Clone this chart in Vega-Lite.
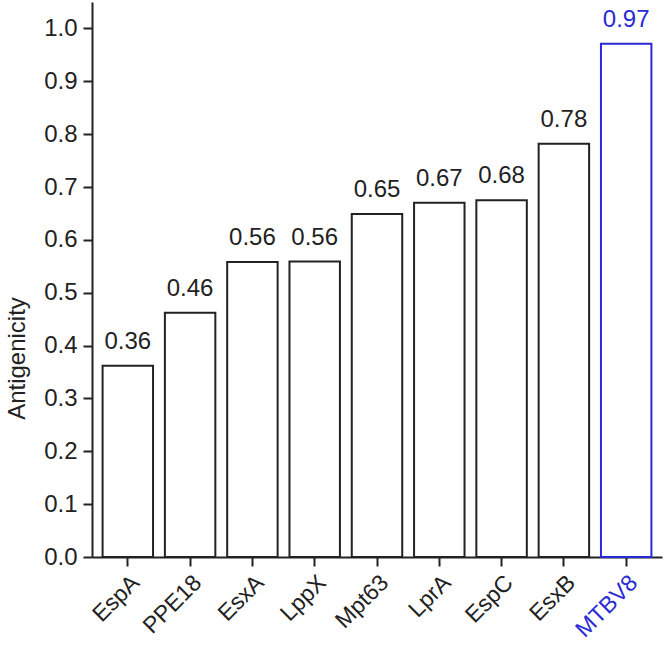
{
  "$schema": "https://vega.github.io/schema/vega-lite/v6.json",
  "autosize": "none",
  "width": 570,
  "height": 555,
  "padding": {"left": 92, "top": 2, "right": 3, "bottom": 88},
  "background": "white",
  "config": {
    "view": {"stroke": null},
    "font": "Liberation Sans",
    "axis": {"grid": false, "domainColor": "#222", "tickColor": "#222", "domainWidth": 2, "tickWidth": 2, "labelColor": "#222", "titleColor": "#222", "labelFont": "Liberation Sans", "titleFont": "Liberation Sans"}
  },
  "data": {"values": [
    {"protein": "EspA", "antigenicity": 0.362, "label": "0.36", "highlight": "no"},
    {"protein": "PPE18", "antigenicity": 0.462, "label": "0.46", "highlight": "no"},
    {"protein": "EsxA", "antigenicity": 0.558, "label": "0.56", "highlight": "no"},
    {"protein": "LppX", "antigenicity": 0.559, "label": "0.56", "highlight": "no"},
    {"protein": "Mpt63", "antigenicity": 0.649, "label": "0.65", "highlight": "no"},
    {"protein": "LprA", "antigenicity": 0.670, "label": "0.67", "highlight": "no"},
    {"protein": "EspC", "antigenicity": 0.675, "label": "0.68", "highlight": "no"},
    {"protein": "EsxB", "antigenicity": 0.782, "label": "0.78", "highlight": "no"},
    {"protein": "MTBV8", "antigenicity": 0.971, "label": "0.97", "highlight": "yes"}
  ]},
  "encoding": {
    "x": {
      "field": "protein", "type": "nominal", "sort": null,
      "scale": {"paddingInner": 0.19, "paddingOuter": 0.17},
      "axis": {
        "title": null, "labelAngle": -45, "labelAlign": "right", "labelBaseline": "top",
        "labelFontSize": 23, "tickSize": 9, "labelPadding": 5,
        "labelColor": {"condition": {"test": "datum.value == 'MTBV8'", "value": "#2a2ad4"}, "value": "#222"}
      }
    },
    "y": {
      "field": "antigenicity", "type": "quantitative",
      "scale": {"domain": [0, 1.05], "nice": false},
      "axis": {
        "title": "Antigenicity", "titleFontSize": 24, "titleFontWeight": "normal",
        "titleAngle": -90, "titleAlign": "center", "titleBaseline": "middle", "titleX": -75, "titleY": 356,
        "values": [0, 0.1, 0.2, 0.3, 0.4, 0.5, 0.6, 0.7, 0.8, 0.9, 1.0],
        "format": ".1f", "labelFontSize": 24, "tickSize": 9, "labelPadding": 6
      }
    }
  },
  "layer": [
    {
      "mark": {"type": "bar", "fill": "white", "strokeWidth": 2},
      "encoding": {
        "stroke": {"field": "highlight", "type": "nominal", "scale": {"domain": ["no", "yes"], "range": ["#222", "#2a2ad4"]}, "legend": null}
      }
    },
    {
      "mark": {"type": "text", "baseline": "alphabetic", "dy": -17, "fontSize": 24},
      "encoding": {
        "text": {"field": "label"},
        "color": {"field": "highlight", "type": "nominal", "scale": {"domain": ["no", "yes"], "range": ["#222", "#2a2ad4"]}, "legend": null}
      }
    }
  ]
}
